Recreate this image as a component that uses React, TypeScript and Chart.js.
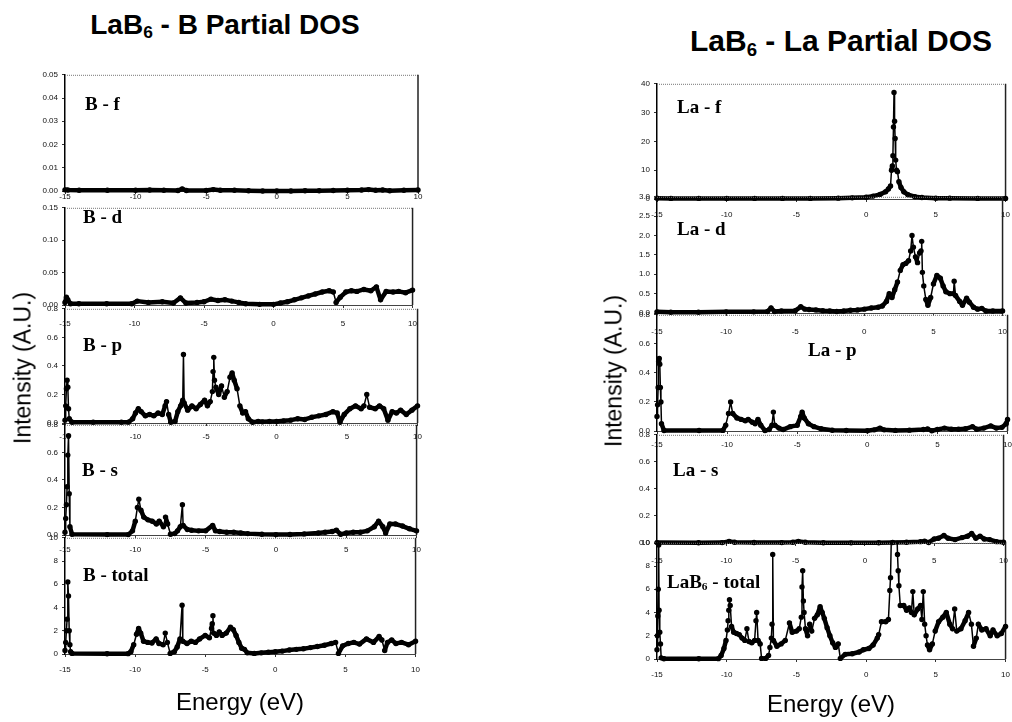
import React, { useEffect, useRef } from "react";
import { Chart, registerables } from "chart.js";
Chart.register(...registerables);

// ---------- DATA ----------
const X_TICKS = [-15, -10, -5, 0, 5, 10];

const B_F_E = [-15, -14.8, -14, -12, -10, -9, -8, -7, -6.7, -6.4, -5, -4.5, -4, -3, -2, -1, 0, 1, 2, 3, 4, 5, 6, 6.5, 7, 7.5, 8, 9, 10];
const B_F_V = [0.0005, 0.0004, 0.0003, 0.0003, 0.0003, 0.0004, 0.0003, 0.0002, 0.0009, 0.0002, 0.0002, 0.0006, 0.0003, 0.0003, 0.0001, 0, 0, 0, 0.0001, 0.0001, 0.0002, 0.0003, 0.0004, 0.0006, 0.0003, 0.0004, 0.0001, 0.0003, 0.0004];

const B_D_E = [-15, -14.9, -14.8, -14.6, -14, -12, -10.2, -9.8, -9, -8, -7.2, -6.7, -6.3, -5.5, -5, -4.5, -4, -3.5, -3, -2.5, -2, -1, 0, 0.5, 1, 1.5, 2, 2.5, 3, 3.5, 4, 4.3, 4.5, 4.8, 5.2, 5.6, 6, 6.5, 7, 7.4, 7.7, 8.1, 8.6, 9, 9.5, 10];
const B_D_V = [0.004, 0.012, 0.008, 0.002, 0.002, 0.002, 0.002, 0.006, 0.004, 0.005, 0.003, 0.011, 0.003, 0.004, 0.005, 0.009, 0.007, 0.008, 0.006, 0.004, 0.002, 0.001, 0.001, 0.003, 0.005, 0.008, 0.011, 0.014, 0.017, 0.02, 0.022, 0.02, 0.004, 0.012, 0.02, 0.022, 0.021, 0.024, 0.022, 0.028, 0.008, 0.021, 0.02, 0.021, 0.019, 0.023];

const B_P_E = [-15, -14.95, -14.9, -14.85, -14.8, -14.75, -14.7, -14.5, -13, -11, -10.5, -10.2, -10, -9.8, -9.6, -9.3, -9, -8.7, -8.4, -8.1, -7.9, -7.8, -7.65, -7.5, -7.2, -7, -6.8, -6.65, -6.6, -6.55, -6.3, -6, -5.7, -5.4, -5.1, -4.9, -4.7, -4.55, -4.5, -4.45, -4.4, -4.3, -4.1, -3.9, -3.7, -3.5, -3.3, -3.15, -3, -2.8, -2.6, -2.4, -2.2, -2, -1.7, -1.3, -1, -0.5, 0, 0.5, 1, 1.5, 2, 2.5, 3, 3.5, 4, 4.3, 4.5, 4.8, 5.2, 5.6, 6, 6.2, 6.4, 6.6, 7, 7.3, 7.6, 7.9, 8.2, 8.5, 8.8, 9.2, 9.6, 10];
const B_P_V = [0.02, 0.12, 0.24, 0.3, 0.25, 0.1, 0.03, 0.005, 0.005, 0.005, 0.006, 0.03, 0.07, 0.1, 0.08, 0.05, 0.06, 0.05, 0.07, 0.06, 0.12, 0.15, 0.06, 0.005, 0.01, 0.08, 0.12, 0.16, 0.48, 0.14, 0.09, 0.12, 0.1, 0.13, 0.16, 0.12, 0.15, 0.22, 0.36, 0.46, 0.3, 0.25, 0.2, 0.26, 0.18, 0.22, 0.32, 0.35, 0.3, 0.24, 0.12, 0.07, 0.08, 0.03, 0.005, 0.01, 0.008, 0.01, 0.01, 0.015, 0.02, 0.03, 0.025, 0.04, 0.05, 0.06, 0.08, 0.07, 0.005, 0.06, 0.1, 0.12, 0.1, 0.12, 0.2, 0.11, 0.1, 0.12, 0.1, 0.02, 0.08, 0.07, 0.09, 0.06, 0.09, 0.12];

const B_S_E = [-15, -14.95, -14.9, -14.85, -14.8, -14.75, -14.7, -14.65, -14.5, -12, -10.5, -10.2, -10, -9.85, -9.75, -9.6, -9.4, -9.1, -8.8, -8.5, -8.3, -8, -7.85, -7.7, -7.5, -7.2, -7, -6.8, -6.65, -6.6, -6.3, -6, -5.5, -5, -4.5, -4.3, -4, -3.5, -3, -2.5, -2, -1, 0, 1, 2, 3, 3.5, 4, 4.3, 4.6, 5, 5.5, 6, 6.5, 7, 7.3, 7.6, 7.8, 8.1, 8.5, 9, 9.5, 10];
const B_S_V = [0.02, 0.12, 0.22, 0.35, 0.58, 0.72, 0.3, 0.06, 0.005, 0.003, 0.003, 0.03, 0.1, 0.2, 0.26, 0.18, 0.13, 0.11, 0.1, 0.08, 0.1, 0.06, 0.13, 0.08, 0.005, 0.01, 0.03, 0.06, 0.22, 0.07, 0.04, 0.035, 0.03, 0.03, 0.07, 0.03, 0.025, 0.02, 0.02, 0.015, 0.01, 0.005, 0.003, 0.004, 0.008, 0.015, 0.02, 0.025, 0.035, 0.005, 0.015, 0.02, 0.02, 0.03, 0.06, 0.1, 0.06, 0.015, 0.08, 0.08, 0.065, 0.045, 0.03];

const B_T_E = [-15, -14.95, -14.9, -14.85, -14.8, -14.75, -14.7, -14.65, -14.6, -14.5, -12, -10.5, -10.3, -10.1, -9.9, -9.75, -9.6, -9.4, -9.1, -8.8, -8.5, -8.3, -8, -7.85, -7.7, -7.5, -7.2, -7, -6.8, -6.65, -6.6, -6.3, -6, -5.7, -5.4, -5, -4.7, -4.55, -4.5, -4.45, -4.4, -4.2, -4, -3.8, -3.5, -3.2, -3, -2.8, -2.6, -2.4, -2.2, -2, -1.5, -1, -0.5, 0, 0.5, 1, 1.5, 2, 2.5, 3, 3.5, 4, 4.3, 4.5, 4.8, 5.2, 5.6, 6, 6.5, 7, 7.4, 7.6, 7.8, 8, 8.3, 8.6, 9, 9.5, 10];
const B_T_V = [0.3, 1, 2, 3, 6.2, 5, 2, 0.8, 0.2, 0.05, 0.02, 0.03, 0.2, 0.8, 1.7, 2.2, 1.8, 1.1, 1.0, 0.95, 1.3, 0.9, 0.8, 1.8, 1.0, 0.05, 0.2, 0.6, 1.3, 4.2, 1.1, 0.9, 1.1, 1.0, 1.3, 1.6, 1.4, 2.2, 2.6, 3.3, 1.8, 1.6, 1.9, 1.6, 1.8, 2.3, 2.1, 1.6, 1.0, 0.5, 0.4, 0.1, 0.05, 0.1, 0.15, 0.2, 0.25, 0.35, 0.4, 0.45, 0.55, 0.65, 0.75, 0.9, 1.0, 0.05, 0.7, 0.9, 1.0, 0.85, 1.3, 1.0, 1.5, 1.2, 0.3, 1.0, 1.2, 0.9, 1.0, 0.8, 1.1];

const LA_F_E = [-15, -14, -12, -10, -8, -6, -4, -2, -1, 0, 0.5, 1, 1.4, 1.6, 1.75, 1.82, 1.88, 1.92, 1.96, 2, 2.04, 2.08, 2.12, 2.18, 2.25, 2.35, 2.5, 2.7, 3, 3.5, 4, 5, 6, 8, 10];
const LA_F_V = [0.3, 0.2, 0.2, 0.2, 0.2, 0.2, 0.2, 0.3, 0.4, 0.6, 1.0, 1.6, 2.5, 3.5, 4.5, 10, 11.5, 15, 25, 37, 27, 21, 13.5, 10, 9.5, 6, 4, 2.5, 1.5, 0.8, 0.5, 0.3, 0.3, 0.2, 0.2];

const LA_D_E = [-15, -14, -12, -10, -8, -7, -6.75, -6.5, -6, -5, -4.6, -4.3, -4, -3.5, -3, -2.5, -2, -1.5, -1, -0.5, 0, 0.5, 1, 1.3, 1.6, 1.8, 2, 2.2, 2.4, 2.6, 2.8, 3, 3.2, 3.35, 3.45, 3.55, 3.7, 3.85, 4, 4.1, 4.15, 4.2, 4.3, 4.45, 4.6, 4.8, 5, 5.25, 5.5, 5.7, 5.9, 6.2, 6.45, 6.5, 6.6, 6.9, 7.1, 7.4, 7.6, 7.9, 8.2, 8.5, 8.8, 9.3, 10];
const LA_D_V = [0.03, 0.02, 0.02, 0.03, 0.03, 0.04, 0.13, 0.04, 0.05, 0.06, 0.16, 0.1, 0.09, 0.08, 0.06, 0.05, 0.04, 0.05, 0.07, 0.08, 0.1, 0.13, 0.15, 0.18, 0.3, 0.5, 0.4, 0.6, 0.8, 1.1, 1.25, 1.28, 1.35, 1.6, 2.0, 1.7, 1.45, 1.3, 1.55, 1.6, 1.85, 1.05, 0.7, 0.35, 0.2, 0.4, 0.75, 0.97, 0.9, 0.7, 0.55, 0.5, 0.5, 0.82, 0.45, 0.3, 0.2, 0.38, 0.28, 0.15, 0.1, 0.12, 0.05, 0.05, 0.05];

const LA_P_E = [-15, -14.96, -14.92, -14.88, -14.84, -14.8, -14.76, -14.72, -14.68, -14.5, -12, -10.3, -10.1, -9.9, -9.75, -9.6, -9.3, -9, -8.7, -8.5, -8.2, -8, -7.8, -7.6, -7.3, -7, -6.8, -6.7, -6.6, -6.3, -6, -5.5, -5, -4.75, -4.65, -4.5, -4.2, -3.8, -3.3, -2.5, -1.5, 0, 0.5, 0.9, 1.2, 2, 3, 4, 4.3, 4.6, 5, 5.5, 6, 6.5, 7, 7.5, 7.8, 8.3, 8.8, 9.2, 9.6, 9.9, 10];
const LA_P_V = [0.1, 0.18, 0.3, 0.48, 0.5, 0.46, 0.3, 0.2, 0.05, 0.003, 0.003, 0.004, 0.04, 0.12, 0.2, 0.12, 0.09, 0.08, 0.07, 0.08, 0.06, 0.05, 0.08, 0.04, 0.003, 0.01, 0.04, 0.13, 0.04, 0.02, 0.01, 0.03, 0.04, 0.1, 0.13, 0.09, 0.05, 0.03, 0.015, 0.005, 0.003, 0.002, 0.008, 0.02, 0.008, 0.004, 0.006, 0.01, 0.014, 0.002, 0.01, 0.02, 0.012, 0.012, 0.015, 0.03, 0.012, 0.02, 0.035, 0.02, 0.025, 0.05, 0.08];

const LA_S_E = [-15, -12, -10.3, -9.8, -9.4, -8, -6, -5.2, -4.8, -4.3, -3, -1, 1, 2, 3, 4, 4.3, 4.6, 5, 5.3, 5.7, 6, 6.5, 7, 7.4, 7.7, 8, 8.3, 8.6, 9, 9.5, 10];
const LA_S_V = [0.003, 0.002, 0.003, 0.012, 0.005, 0.004, 0.003, 0.006, 0.012, 0.005, 0.002, 0.001, 0.002, 0.004, 0.006, 0.01, 0.013, 0.004, 0.03, 0.035, 0.055, 0.035, 0.025, 0.04, 0.05, 0.07, 0.035, 0.05, 0.03, 0.025, 0.01, 0.005];

const LAB6_T_E = [-15, -14.97, -14.94, -14.91, -14.88, -14.85, -14.8, -14.75, -14.7, -14.5, -12, -10.6, -10.4, -10.2, -10.05, -9.95, -9.9, -9.85, -9.8, -9.75, -9.65, -9.5, -9.3, -9.1, -8.9, -8.7, -8.55, -8.4, -8.2, -8, -7.9, -7.85, -7.75, -7.6, -7.5, -7.2, -7, -6.9, -6.8, -6.75, -6.7, -6.65, -6.4, -6.1, -5.8, -5.5, -5.3, -5, -4.8, -4.65, -4.6, -4.55, -4.5, -4.45, -4.35, -4.2, -4.05, -3.9, -3.7, -3.5, -3.3, -3.15, -3, -2.8, -2.6, -2.4, -2.2, -2, -1.85, -1.5, -1, -0.5, -0.2, 0.2, 0.5, 0.8, 0.9, 1.1, 1.4, 1.6, 1.7, 1.75, 1.85, 2, 2.15, 2.25, 2.3, 2.35, 2.45, 2.7, 2.9, 3.1, 3.25, 3.35, 3.45, 3.7, 3.9, 4, 4.1, 4.2, 4.3, 4.4, 4.55, 4.75, 4.95, 5.2, 5.5, 5.75, 6, 6.2, 6.35, 6.5, 6.8, 7.1, 7.35, 7.55, 7.7, 7.9, 8.05, 8.3, 8.6, 8.9, 9.1, 9.4, 9.7, 10];
const LAB6_T_V = [0.8, 2.0, 3.7, 6.0, 9.8, 4.2, 2.3, 1.3, 0.1, 0.02, 0.02, 0.03, 0.3, 0.9, 1.6, 2.5, 3.3, 4.2, 5.1, 4.6, 2.8, 2.3, 2.2, 2.1, 1.8, 1.6, 2.6, 1.5, 1.4, 1.6, 3.3, 4.0, 1.6, 1.3, 0.05, 0.05, 0.3, 1.0, 1.8, 3.0, 9.0, 1.6, 1.1, 1.3, 1.6, 3.1, 2.3, 2.4, 2.6, 3.6, 6.2, 7.6, 5.0, 4.0, 2.6, 2.0, 3.0, 2.4, 3.5, 3.8, 4.5, 4.0, 3.5, 2.7, 2.0, 1.4, 1.0, 1.3, 0.05, 0.4, 0.45, 0.6, 0.8, 0.9, 1.2, 1.8, 2.1, 3.2, 3.2, 3.4, 5.9, 7.0, 13, 40, 14, 9.0, 7.6, 6.3, 4.6, 4.6, 4.2, 4.4, 4.0, 5.8, 3.8, 4.3, 4.6, 3.4, 5.8, 3.0, 2.0, 1.2, 0.8, 1.3, 2.4, 3.2, 3.6, 4.0, 3.0, 2.6, 4.3, 2.4, 2.6, 3.3, 4.0, 3.0, 1.1, 1.8, 3.0, 2.5, 2.6, 2.0, 2.5, 2.0, 2.2, 2.8];

// ---------- LAYOUT ----------
type Panel = {
  e: number[]; v: number[];
  max: number; step: number; dec: number;
  left: number; right: number; top: number; bottom: number;
  xGap: number;
};

const LEFT_X = { left: 65, right: 418 };
const RIGHT_X = { left: 657, right: 1008 };

const PANELS: Panel[] = [
  { e: B_F_E, v: B_F_V, max: 0.05, step: 0.01, dec: 2, ...LEFT_X, top: 74, bottom: 191, xGap: 6 },
  { e: B_D_E, v: B_D_V, max: 0.15, step: 0.05, dec: 2, ...LEFT_X, top: 207, bottom: 305, xGap: 19 },
  { e: B_P_E, v: B_P_V, max: 0.8, step: 0.2, dec: 1, ...LEFT_X, top: 308, bottom: 423, xGap: 14 },
  { e: B_S_E, v: B_S_V, max: 0.8, step: 0.2, dec: 1, ...LEFT_X, top: 424, bottom: 535, xGap: 15 },
  { e: B_T_E, v: B_T_V, max: 10, step: 2, dec: 0, ...LEFT_X, top: 537, bottom: 654, xGap: 16 },
  { e: LA_F_E, v: LA_F_V, max: 40, step: 10, dec: 0, ...RIGHT_X, top: 83, bottom: 199, xGap: 16 },
  { e: LA_D_E, v: LA_D_V, max: 3, step: 0.5, dec: 1, ...RIGHT_X, top: 196, bottom: 313, xGap: 19 },
  { e: LA_P_E, v: LA_P_V, max: 0.8, step: 0.2, dec: 1, ...RIGHT_X, top: 314, bottom: 431, xGap: 14 },
  { e: LA_S_E, v: LA_S_V, max: 0.8, step: 0.2, dec: 1, ...RIGHT_X, top: 434, bottom: 543, xGap: 18 },
  { e: LAB6_T_E, v: LAB6_T_V, max: 10, step: 2, dec: 0, ...RIGHT_X, top: 542, bottom: 659, xGap: 16 },
];

const YW = 40, PT = 8, PR = 10, XH = 28;
const TICK_FONT = { family: '"Liberation Sans", Arial, sans-serif', size: 8 };

const framePlugin = {
  id: "frame",
  beforeDatasetsDraw(chart: any) {
    const { ctx, chartArea } = chart;
    const { left, right, top, bottom } = chartArea;
    ctx.save();
    ctx.strokeStyle = "#777";
    ctx.lineWidth = 1;
    ctx.setLineDash([1, 1]);
    ctx.beginPath();
    ctx.moveTo(left, top + 0.5);
    ctx.lineTo(right, top + 0.5);
    ctx.stroke();
    ctx.setLineDash([]);
    ctx.strokeStyle = "#222";
    ctx.lineWidth = 1.5;
    ctx.beginPath();
    ctx.moveTo(right, top);
    ctx.lineTo(right, bottom);
    ctx.stroke();
    ctx.restore();
  },
};

function PanelChart({ p }: { p: Panel }) {
  const ref = useRef<HTMLCanvasElement>(null);
  const w = YW + (p.right - p.left) + PR;
  const h = PT + (p.bottom - p.top) + XH;
  useEffect(() => {
    const canvas = ref.current!;
    const chart = new Chart(canvas, {
      type: "line",
      data: {
        datasets: [
          {
            data: p.e.map((x, i) => ({ x, y: p.v[i] })),
            borderColor: "#000",
            backgroundColor: "#000",
            borderWidth: 2,
            borderJoinStyle: "round",
            borderCapStyle: "round",
            pointRadius: 2.7,
            pointBackgroundColor: "#000",
            pointBorderWidth: 0,
            tension: 0,
            clip: { left: 5, top: 2, right: 5, bottom: 5 },
            segment: {
              borderWidth: (ctx: any) => {
                const dx = Math.abs(ctx.p1.x - ctx.p0.x);
                const dy = Math.abs(ctx.p1.y - ctx.p0.y);
                return dy > 2.5 * dx + 3 ? 1.5 : 4.5;
              },
            },
          } as any,
        ],
      },
      options: {
        responsive: false,
        animation: false,
        devicePixelRatio: 1,
        layout: { padding: { top: PT, right: PR, left: 0, bottom: 0 } },
        plugins: { legend: { display: false }, tooltip: { enabled: false }, title: { display: false } },
        scales: {
          x: {
            type: "linear",
            min: -15,
            max: 10,
            afterBuildTicks: (s: any) => {
              s.ticks = X_TICKS.map((v) => ({ value: v }));
            },
            ticks: {
              font: TICK_FONT,
              color: "#111",
              padding: p.xGap - 8,
              maxRotation: 0,
              callback: (v: any) => String(v),
            },
            grid: { display: true, drawOnChartArea: false, drawTicks: true, tickLength: 3, color: "#333" },
            border: { color: "#444", width: 1 },
            afterFit: (s: any) => {
              s.height = XH;
            },
          },
          y: {
            type: "linear",
            min: 0,
            max: p.max,
            ticks: {
              stepSize: p.step,
              font: TICK_FONT,
              color: "#111",
              padding: 4,
              callback: (v: any) => Number(v).toFixed(p.dec),
            },
            grid: { display: true, drawOnChartArea: false, drawTicks: true, tickLength: 3, color: "#333" },
            border: { color: "#000", width: 1.5 },
            afterFit: (s: any) => {
              s.width = YW;
            },
          },
        },
      } as any,
      plugins: [framePlugin],
    });
    return () => chart.destroy();
  }, []);
  return (
    <canvas
      ref={ref}
      width={w}
      height={h}
      style={{ position: "absolute", left: p.left - YW, top: p.top - PT, width: w, height: h }}
    />
  );
}

const LABEL_FONT = '"Liberation Serif", "Times New Roman", serif';
const SANS = '"Liberation Sans", Arial, sans-serif';

function PanelLabel({ x, capTop, children }: { x: number; capTop: number; children: React.ReactNode }) {
  return (
    <div
      style={{
        position: "absolute",
        left: x,
        top: capTop - 3.5,
        fontFamily: LABEL_FONT,
        fontWeight: "bold",
        fontSize: 19,
        lineHeight: 1,
        whiteSpace: "nowrap",
        color: "#000",
      }}
    >
      {children}
    </div>
  );
}

function CenterText({ cx, cy, size, bold, rotate, children }: any) {
  return (
    <div
      style={{
        position: "absolute",
        left: cx,
        top: cy,
        transform: `translate(-50%, -50%)${rotate ? " rotate(-90deg)" : ""}`,
        fontFamily: SANS,
        fontWeight: bold ? "bold" : "normal",
        fontSize: size,
        lineHeight: 1,
        whiteSpace: "nowrap",
        color: "#000",
      }}
    >
      {children}
    </div>
  );
}

const sub6 = <sub style={{ fontSize: "0.62em", verticalAlign: "-0.25em", lineHeight: 0 }}>6</sub>;

export default function App() {
  return (
    <div style={{ position: "absolute", left: 0, top: 0, width: 1012, height: 722, background: "#fff", overflow: "hidden" }}>
      {PANELS.map((p, i) => (
        <PanelChart key={i} p={p} />
      ))}

      <CenterText cx={225} cy={25} size={28} bold>
        LaB{sub6} - B Partial DOS
      </CenterText>
      <CenterText cx={841} cy={41} size={30} bold>
        LaB{sub6} - La Partial DOS
      </CenterText>

      <CenterText cx={23} cy={368} size={23} rotate>
        Intensity (A.U.)
      </CenterText>
      <CenterText cx={614} cy={371} size={23} rotate>
        Intensity (A.U.)
      </CenterText>
      <CenterText cx={240} cy={702} size={24}>
        Energy (eV)
      </CenterText>
      <CenterText cx={831} cy={704} size={24}>
        Energy (eV)
      </CenterText>

      <PanelLabel x={85} capTop={97}>B - f</PanelLabel>
      <PanelLabel x={83} capTop={210}>B - d</PanelLabel>
      <PanelLabel x={83} capTop={338}>B - p</PanelLabel>
      <PanelLabel x={82} capTop={463}>B - s</PanelLabel>
      <PanelLabel x={83} capTop={568}>B - total</PanelLabel>

      <PanelLabel x={677} capTop={100}>La - f</PanelLabel>
      <PanelLabel x={677} capTop={222}>La - d</PanelLabel>
      <PanelLabel x={808} capTop={343}>La - p</PanelLabel>
      <PanelLabel x={673} capTop={463}>La - s</PanelLabel>
      <PanelLabel x={667} capTop={575}>
        LaB<sub style={{ fontSize: "0.6em", verticalAlign: "-0.2em", lineHeight: 0 }}>6</sub> - total
      </PanelLabel>
    </div>
  );
}
